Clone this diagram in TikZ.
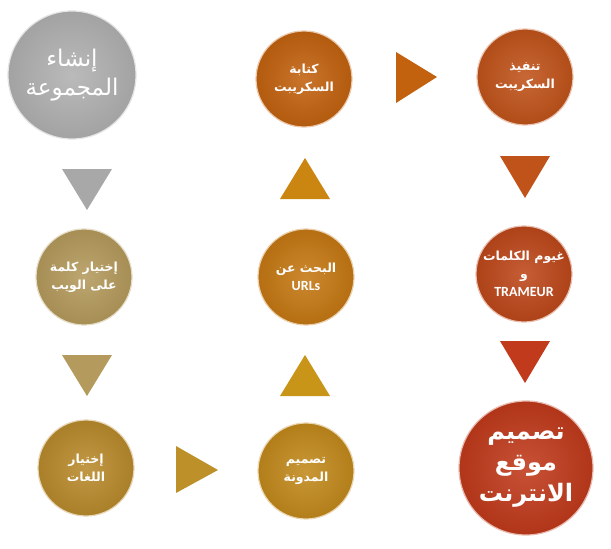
\documentclass[tikz,border=0pt]{standalone}
\usepackage{fontspec}
\usepackage{tikz}
\newfontfamily\arabicfont[Script=Arabic, BoldFont={DejaVu Sans Bold}]{DejaVu Sans}
\newfontfamily\latinfont{Carlito}
\TeXXeTstate=1
\usetikzlibrary{positioning}

\definecolor{ballgray}{HTML}{A3A3A3}
\definecolor{balltan}{HTML}{B49A5C}
\definecolor{ballgold}{HTML}{B98A2C}
\definecolor{ballamber}{HTML}{C2891C}
\definecolor{ballorange}{HTML}{C57813}
\definecolor{ballrust}{HTML}{C2620F}
\definecolor{ballbrick}{HTML}{C0531A}
\definecolor{ballred}{HTML}{BD471A}
\definecolor{balldeep}{HTML}{C03A1B}

\tikzset{
  ball/.style={circle, minimum size=96pt, inner sep=0pt, align=center,
    text=white, font=\arabicfont\bfseries\fontsize{12.5}{18}\selectfont,
    draw=white!65!#1, line width=1.2pt,
    inner color=#1!88!white, outer color=#1!92!black},
  bigball/.style={ball=#1, minimum size=128pt,
    font=\arabicfont\bfseries\fontsize{22}{29}\selectfont},
  tri/.style={fill=#1, draw=none},
}

\begin{document}
\begin{tikzpicture}[x=1pt, y=-1pt]
\useasboundingbox (0, 0) rectangle (611, 549);

% steps
\node at (72, 75) (A) [bigball=ballgray!85!white, font=\arabicfont\fontsize{23}{29}\selectfont] {\beginR إنشاء\endR\\\beginR المجموعة\endR};
\node at (304, 79) (B) [ball=ballrust] {\beginR كتابة\endR\\\beginR السكريبت\endR};
\node at (525, 77) (C) [ball=ballbrick] {\beginR تنفيذ\endR\\\beginR السكريبت\endR};
\node at (84, 277) (D) [ball=balltan] {\beginR إختيار كلمة\endR\\\beginR على الويب\endR};
\node at (306, 277) (E) [ball=ballorange] {\beginR البحث عن\endR\\{\latinfont\bfseries\fontsize{14}{18}\selectfont URLs}};
\node at (524, 274) (F) [ball=ballred] {\beginR غيوم الكلمات\endR\\\beginR و\endR\\{\latinfont\bfseries\fontsize{14}{18}\selectfont TRAMEUR}};
\node at (86, 468) (G) [ball=ballgold] {\beginR إختيار\endR\\\beginR اللغات\endR};
\node at (306, 471) (H) [ball=ballamber] {\beginR تصميم\endR\\\beginR المدونة\endR};
\node at (526, 468) (I) [bigball=balldeep, minimum size=134pt, font=\arabicfont\bfseries\fontsize{24}{31}\selectfont] {\beginR تصميم\endR\\\beginR موقع\endR\\\beginR الانترنت\endR};

% arrows
\fill[tri=ballgray!95!white] (62, 169) -- (112, 169) -- (87, 210) -- cycle;
\fill[tri=balltan] (62, 355) -- (112, 355) -- (87, 396) -- cycle;
\fill[tri=ballgold!95!yellow] (176, 446) -- (176, 493) -- (218, 470) -- cycle;
\fill[tri=ballamber!90!yellow] (305, 355) -- (330, 396) -- (280, 396) -- cycle;
\fill[tri=ballorange!90!yellow] (305, 158) -- (330, 199) -- (280, 199) -- cycle;
\fill[tri=ballrust] (396, 52) -- (396, 103) -- (437, 77) -- cycle;
\fill[tri=ballbrick] (500, 156) -- (550, 156) -- (525, 198) -- cycle;
\fill[tri=balldeep] (500, 341) -- (550, 341) -- (525, 383) -- cycle;
\end{tikzpicture}
\end{document}
